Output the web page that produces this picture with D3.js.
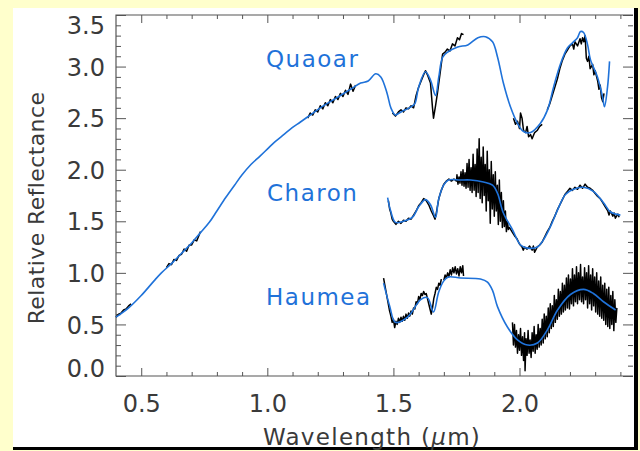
<!DOCTYPE html>
<html>
<head>
<meta charset="utf-8">
<script src="https://cdn.jsdelivr.net/npm/d3@7"></script>
<style>
  body { margin: 0; background: #ffffcc; }
  svg { display: block; }
</style>
</head>
<body>
<svg id="chart"></svg>
<script>
// ---- data (wavelength in micron, relative reflectance) ----
const xMajorTicks = [0.5, 1.0, 1.5, 2.0];
const yMajorTicks = [0.0, 0.5, 1.0, 1.5, 2.0, 2.5, 3.0, 3.5];
const bodyNames = ['Quaoar', 'Charon', 'Haumea'];

const quaoarModel = [
  [0.40,0.57],[0.45,0.66],[0.50,0.78],[0.55,0.92],[0.58,1.00],[0.62,1.09],[0.66,1.19],[0.70,1.29],
  [0.735,1.39],[0.77,1.49],[0.80,1.60],[0.835,1.73],[0.87,1.85],[0.90,1.95],[0.935,2.05],[0.97,2.13],
  [1.00,2.20],[1.03,2.27],[1.065,2.34],[1.10,2.41],[1.13,2.46],[1.17,2.53],[1.21,2.60],[1.25,2.66],
  [1.29,2.72],[1.33,2.78],[1.37,2.84],[1.40,2.86],[1.43,2.93],[1.45,2.90],[1.475,2.74],[1.49,2.60],
  [1.508,2.53],[1.53,2.56],[1.57,2.61],[1.585,2.64],[1.60,2.80],[1.627,2.95],[1.647,2.87],[1.667,2.72],
  [1.68,2.90],[1.695,3.09],[1.715,3.14],[1.755,3.19],[1.795,3.21],[1.835,3.28],[1.865,3.29],[1.893,3.24],
  [1.913,3.09],[1.936,2.84],[1.964,2.61],[1.992,2.45],[2.016,2.37],[2.044,2.36],[2.083,2.45],[2.111,2.58],
  [2.135,2.80],[2.163,3.03],[2.19,3.18],[2.21,3.23],[2.23,3.28],[2.242,3.34],[2.254,3.33],[2.27,3.21],
  [2.281,3.07],[2.309,2.90],[2.329,2.71],[2.337,2.61],[2.349,2.80],[2.357,3.05]
];

const quaoarObs = [
  [[0.40,0.57],[0.41,0.60],[0.42,0.61],[0.43,0.64],[0.44,0.65],[0.45,0.68],[0.46,0.70]],
  [[0.60,1.05],[0.61,1.09],[0.62,1.08],[0.63,1.13],[0.64,1.12],[0.65,1.17],[0.66,1.18],[0.67,1.23],
   [0.68,1.21],[0.69,1.27],[0.70,1.27],[0.71,1.32],[0.72,1.31],[0.73,1.37],[0.735,1.40]],
  [[1.16,2.50],[1.17,2.55],[1.18,2.53],[1.19,2.58],[1.20,2.56],[1.21,2.62],[1.22,2.59],[1.23,2.65],
   [1.24,2.62],[1.25,2.68],[1.26,2.65],[1.27,2.71],[1.28,2.68],[1.29,2.74],[1.30,2.71],[1.31,2.77],
   [1.32,2.73],[1.33,2.83],[1.34,2.76],[1.35,2.82]],
  [[1.496,2.55],[1.508,2.52],[1.52,2.56],[1.53,2.58],[1.54,2.56],[1.55,2.60],[1.56,2.59],[1.57,2.62],
   [1.58,2.60],[1.59,2.72],[1.60,2.80],[1.61,2.86],[1.62,2.92],[1.627,2.96],[1.635,2.92],[1.647,2.84],
   [1.655,2.60],[1.659,2.50],[1.667,2.62],[1.675,2.75],[1.687,2.97],[1.695,3.12],[1.705,3.14],[1.714,3.17],
   [1.724,3.15],[1.734,3.22],[1.744,3.20],[1.754,3.28],[1.762,3.26],[1.770,3.32],[1.778,3.31]],
  [[1.976,2.50],[1.984,2.44],[1.992,2.47],[2.0,2.40],[2.004,2.55],[2.01,2.50],[2.016,2.38],[2.024,2.36],
   [2.03,2.42],[2.036,2.32],[2.044,2.34],[2.05,2.30],[2.06,2.36],[2.07,2.38],[2.08,2.42],[2.09,2.44]],
  [[2.11,2.58],[2.12,2.64],[2.13,2.72],[2.14,2.80],[2.15,2.88],[2.16,2.98],[2.17,3.06],[2.18,3.12],
   [2.19,3.16],[2.20,3.20],[2.21,3.22],[2.215,3.17],[2.22,3.24],[2.23,3.20],[2.24,3.27],[2.245,3.22],
   [2.25,3.28],[2.255,3.24],[2.26,3.30],[2.265,3.08],[2.27,3.05],[2.275,3.10],[2.28,2.98],[2.29,3.02],
   [2.295,2.92],[2.30,2.96],[2.31,2.86],[2.315,2.78],[2.32,2.82],[2.325,2.70],[2.33,2.66],[2.335,2.74]]
];

const charonModel = [
  [1.477,1.73],[1.488,1.61],[1.508,1.49],[1.54,1.50],[1.576,1.54],[1.60,1.64],[1.627,1.71],[1.647,1.66],
  [1.667,1.54],[1.679,1.71],[1.699,1.85],[1.718,1.90],[1.766,1.90],[1.806,1.90],[1.857,1.88],[1.893,1.85],
  [1.913,1.77],[1.936,1.58],[1.972,1.42],[2.004,1.27],[2.032,1.24],[2.071,1.25],[2.095,1.32],[2.123,1.45],
  [2.151,1.61],[2.182,1.76],[2.214,1.81],[2.254,1.83],[2.293,1.79],[2.333,1.68],[2.361,1.59],[2.40,1.56]
];

const charonObs = [
  [[1.480,1.70],[1.485,1.62],[1.49,1.58],[1.495,1.52],[1.50,1.50],[1.51,1.47],[1.52,1.50],[1.53,1.48],
   [1.54,1.51],[1.55,1.50],[1.56,1.53],[1.57,1.52],[1.58,1.56],[1.59,1.60],[1.60,1.65],[1.61,1.68],
   [1.62,1.72],[1.63,1.70],[1.64,1.66],[1.65,1.60],[1.66,1.55],[1.665,1.52],[1.67,1.58],[1.68,1.72],
   [1.69,1.80],[1.70,1.86],[1.71,1.89],[1.72,1.91],[1.73,1.89],[1.74,1.91],[1.75,1.89],
   [1.752,1.95],[1.756,1.86],[1.760,1.93],[1.764,1.87],[1.768,1.98],[1.772,1.85],[1.776,2.00],[1.780,1.84],
   [1.784,1.97],[1.788,1.82],[1.792,2.06],[1.796,1.83],[1.800,2.10],[1.804,1.80],[1.808,2.02],[1.812,1.78],
   [1.816,2.15],[1.820,1.80],[1.824,2.05],[1.828,1.74],[1.832,2.20],[1.836,1.78],[1.840,2.30],[1.844,1.72],
   [1.848,2.12],[1.852,1.68],[1.856,2.22],[1.860,1.75],[1.864,2.05],[1.868,1.60],[1.872,2.18],[1.876,1.70],
   [1.880,2.00],[1.884,1.48],[1.888,2.08],[1.892,1.62],[1.896,1.95],[1.900,1.55],[1.904,1.98],[1.908,1.60],
   [1.912,1.85],[1.916,1.47],[1.920,1.90],[1.924,1.50],[1.928,1.78],[1.932,1.44],[1.936,1.70],[1.940,1.45],
   [1.944,1.60],[1.948,1.40],[1.952,1.50],[1.956,1.42],
   [1.96,1.44],[1.97,1.40],[1.98,1.36],[1.99,1.33],[2.00,1.28],[2.01,1.25],[2.015,1.22],[2.02,1.25],
   [2.03,1.23],[2.04,1.26],[2.05,1.22],[2.055,1.26],[2.06,1.20],[2.07,1.25],[2.08,1.27],[2.09,1.30],
   [2.10,1.35],[2.11,1.40],[2.12,1.44],[2.13,1.50],[2.14,1.55],[2.15,1.61],[2.16,1.66],[2.17,1.71],
   [2.18,1.76],[2.19,1.79],[2.20,1.82],[2.21,1.80],[2.22,1.83],[2.23,1.81],[2.24,1.85],[2.25,1.82],
   [2.26,1.86],[2.27,1.83],[2.28,1.82],[2.29,1.80],[2.30,1.77],[2.31,1.74],[2.32,1.72],[2.33,1.68],
   [2.34,1.64],[2.35,1.60],[2.355,1.56],[2.36,1.60],[2.37,1.55],[2.375,1.58],[2.38,1.53],[2.39,1.57],[2.395,1.54]]
];

const haumeaModel = [
  [1.461,0.90],[1.485,0.68],[1.508,0.52],[1.556,0.57],[1.608,0.74],[1.635,0.76],[1.659,0.62],[1.679,0.81],
  [1.699,0.92],[1.718,0.96],[1.766,0.95],[1.845,0.94],[1.873,0.91],[1.893,0.83],[1.913,0.67],[1.952,0.475],
  [1.992,0.35],[2.032,0.30],[2.071,0.32],[2.111,0.45],[2.151,0.64],[2.202,0.79],[2.254,0.84],[2.293,0.80],
  [2.333,0.72],[2.381,0.64]
];

const haumeaObs = [
  [[1.461,0.95],[1.466,0.88],[1.472,0.80],[1.478,0.72],[1.484,0.64],[1.49,0.58],[1.495,0.52],[1.50,0.55],
   [1.505,0.47],[1.51,0.53],[1.515,0.50],[1.52,0.56],[1.525,0.52],[1.53,0.57],[1.535,0.53],[1.54,0.58],
   [1.545,0.54],[1.55,0.60],[1.555,0.56],[1.56,0.61],[1.565,0.58],[1.57,0.63],[1.575,0.60],[1.58,0.66],
   [1.585,0.65],[1.59,0.72],[1.595,0.70],[1.60,0.77],[1.605,0.74],[1.61,0.80],[1.615,0.78],[1.62,0.82],
   [1.625,0.79],[1.63,0.80],[1.635,0.75],[1.64,0.70],[1.645,0.65],[1.65,0.60],[1.655,0.66],[1.66,0.75],
   [1.665,0.80],[1.67,0.86],[1.675,0.84],[1.68,0.90],[1.685,0.88],[1.69,0.94]],
  [[1.70,0.93],[1.705,0.98],[1.71,0.95],[1.715,1.00],[1.72,0.96],[1.725,1.03],[1.73,0.98],[1.735,1.05],
   [1.74,1.00],[1.745,1.06],[1.75,0.99],[1.755,1.04],[1.76,0.97],[1.765,1.06],[1.77,1.00],[1.775,1.07],[1.778,0.97]],
  [[1.972,0.52],[1.976,0.30],[1.980,0.50],[1.984,0.28],[1.988,0.44],[1.992,0.22],[1.996,0.40],[2.000,0.25],
   [2.004,0.46],[2.008,0.20],[2.012,0.38],[2.016,0.15],[2.020,0.42],[2.022,0.05],[2.026,0.36],[2.030,0.20],
   [2.034,0.44],[2.038,0.22],[2.042,0.35],[2.046,0.18],[2.050,0.42],[2.054,0.24],[2.058,0.48],[2.062,0.22],
   [2.066,0.40],[2.070,0.26],[2.074,0.50],[2.078,0.28],[2.082,0.46],[2.086,0.30],[2.090,0.55],[2.094,0.32],
   [2.098,0.60],[2.102,0.36],[2.106,0.58],[2.110,0.38],[2.114,0.66],[2.118,0.42],[2.122,0.70],[2.126,0.46],
   [2.130,0.68],[2.134,0.48],[2.138,0.78],[2.142,0.52],[2.146,0.74],[2.150,0.55],[2.154,0.84],[2.158,0.58],
   [2.162,0.82],[2.166,0.60],[2.170,0.90],[2.174,0.62],[2.178,0.88],[2.182,0.64],[2.186,0.95],[2.190,0.66],
   [2.194,0.98],[2.198,0.65],[2.202,0.94],[2.206,0.70],[2.210,1.04],[2.214,0.68],[2.218,0.98],[2.222,0.72],
   [2.226,1.06],[2.230,0.70],[2.234,1.00],[2.238,0.74],[2.242,1.08],[2.246,0.72],[2.250,0.96],[2.254,0.70],
   [2.258,1.05],[2.262,0.74],[2.266,1.00],[2.270,0.66],[2.274,1.07],[2.278,0.70],[2.282,0.98],[2.286,0.64],
   [2.290,1.04],[2.294,0.68],[2.298,0.96],[2.302,0.62],[2.306,1.00],[2.310,0.60],[2.314,0.92],[2.318,0.58],
   [2.322,0.96],[2.326,0.56],[2.330,0.88],[2.334,0.54],[2.338,0.90],[2.342,0.50],[2.346,0.84],[2.350,0.48],
   [2.354,0.86],[2.358,0.46],[2.362,0.78],[2.366,0.50],[2.370,0.82],[2.374,0.44],[2.378,0.74],[2.382,0.52],[2.386,0.66]]
];

// ---- layout ----
const width = 640, height = 451;
const plot = { left: 116, right: 633, top: 15, bottom: 376 };
const blue = '#1f72d9';
const ink = '#3a3a3a';
const font = '"DejaVu Sans", sans-serif';

const svg = d3.select('#chart').attr('width', width).attr('height', height);

// page panel with dark right/bottom edge
svg.append('rect').attr('x', 13).attr('y', 8).attr('width', 625).attr('height', 442).attr('fill', '#000');
svg.append('rect').attr('x', 13).attr('y', 8).attr('width', 621).attr('height', 439).attr('fill', '#fff');

const x = d3.scaleLinear().domain([0.4, 2.45]).range([plot.left, plot.right]);
const y = d3.scaleLinear().domain([0, 3.5]).range([plot.bottom, plot.top]);

const xMinor = d3.range(5, 25).map(d => d / 10).filter(d => !xMajorTicks.includes(d));
const yMinor = d3.range(1, 35).map(d => d / 10).filter(d => d % 0.5 > 0.01 && d % 0.5 < 0.49);

function styleAxis(g) {
  g.select('.domain').remove();
  g.selectAll('line').attr('stroke', '#555');
  g.selectAll('text').attr('font-family', font).attr('font-size', 24).attr('fill', ink);
}

// bottom
svg.append('g').attr('transform', `translate(0,${plot.bottom})`)
  .call(d3.axisBottom(x).tickValues(xMajorTicks).tickFormat(d3.format('.1f')).tickSizeInner(-8).tickSizeOuter(0).tickPadding(19))
  .call(styleAxis);
svg.append('g').attr('transform', `translate(0,${plot.bottom})`)
  .call(d3.axisBottom(x).tickValues(xMinor).tickFormat('').tickSizeInner(-4).tickSizeOuter(0))
  .call(styleAxis);
// top
svg.append('g').attr('transform', `translate(0,${plot.top})`)
  .call(d3.axisTop(x).tickValues(xMajorTicks).tickFormat('').tickSizeInner(-8).tickSizeOuter(0))
  .call(styleAxis);
svg.append('g').attr('transform', `translate(0,${plot.top})`)
  .call(d3.axisTop(x).tickValues(xMinor).tickFormat('').tickSizeInner(-4).tickSizeOuter(0))
  .call(styleAxis);
// left
const yAxisG = svg.append('g').attr('transform', `translate(${plot.left},0)`)
  .call(d3.axisLeft(y).tickValues(yMajorTicks).tickFormat(d3.format('.1f')).tickSizeInner(-10).tickSizeOuter(0).tickPadding(11))
  .call(styleAxis);
yAxisG.selectAll('.tick text').attr('dy', d => d === 0 ? '-0.0em' : d === 3.5 ? '0.75em' : '0.36em');
svg.append('g').attr('transform', `translate(${plot.left},0)`)
  .call(d3.axisLeft(y).tickValues(yMinor).tickFormat('').tickSizeInner(-5).tickSizeOuter(0))
  .call(styleAxis);
// right
svg.append('g').attr('transform', `translate(${plot.right},0)`)
  .call(d3.axisRight(y).tickValues(yMajorTicks).tickFormat('').tickSizeInner(-10).tickSizeOuter(0))
  .call(styleAxis);
svg.append('g').attr('transform', `translate(${plot.right},0)`)
  .call(d3.axisRight(y).tickValues(yMinor).tickFormat('').tickSizeInner(-5).tickSizeOuter(0))
  .call(styleAxis);

// frame
svg.append('path')
  .attr('d', `M${plot.right},${plot.top}H${plot.left}V${plot.bottom}H${plot.right}`)
  .attr('fill', 'none').attr('stroke', '#555').attr('stroke-width', 1.2);

// spectra: black observed data under blue model fits
const obsLine = d3.line().x(d => x(d[0])).y(d => y(d[1]));
const modelLine = d3.line().x(d => x(d[0])).y(d => y(d[1])).curve(d3.curveCatmullRom.alpha(0.5));

const observed = [...quaoarObs, ...charonObs, ...haumeaObs];
svg.append('g').selectAll('path').data(observed).join('path')
  .attr('d', obsLine).attr('fill', 'none').attr('stroke', '#000')
  .attr('stroke-width', 1.5).attr('stroke-linejoin', 'round');

svg.append('g').selectAll('path').data([quaoarModel, charonModel, haumeaModel]).join('path')
  .attr('d', modelLine).attr('fill', 'none').attr('stroke', blue).attr('stroke-width', 1.6);

// body labels
const labelPos = [[266, 59], [267, 193], [266, 297]];
svg.append('g').selectAll('text').data(bodyNames).join('text')
  .attr('x', (d, i) => labelPos[i][0]).attr('y', (d, i) => labelPos[i][1])
  .attr('dominant-baseline', 'central')
  .attr('font-family', font).attr('font-size', 23).attr('letter-spacing', 1.5)
  .attr('fill', blue).text(d => d);

// axis titles
const xt = svg.append('text').attr('x', 372).attr('y', 437)
  .attr('text-anchor', 'middle').attr('dominant-baseline', 'central')
  .attr('font-family', font).attr('font-size', 23).attr('letter-spacing', 1.3).attr('fill', ink);
xt.append('tspan').text('Wavelength (');
xt.append('tspan').attr('font-style', 'italic').text('μ');
xt.append('tspan').text('m)');

svg.append('text')
  .attr('transform', 'translate(36,208) rotate(-90)')
  .attr('text-anchor', 'middle').attr('dominant-baseline', 'central')
  .attr('font-family', font).attr('font-size', 22).attr('letter-spacing', 0.4).attr('fill', ink)
  .text('Relative Reflectance');
</script>
</body>
</html>
